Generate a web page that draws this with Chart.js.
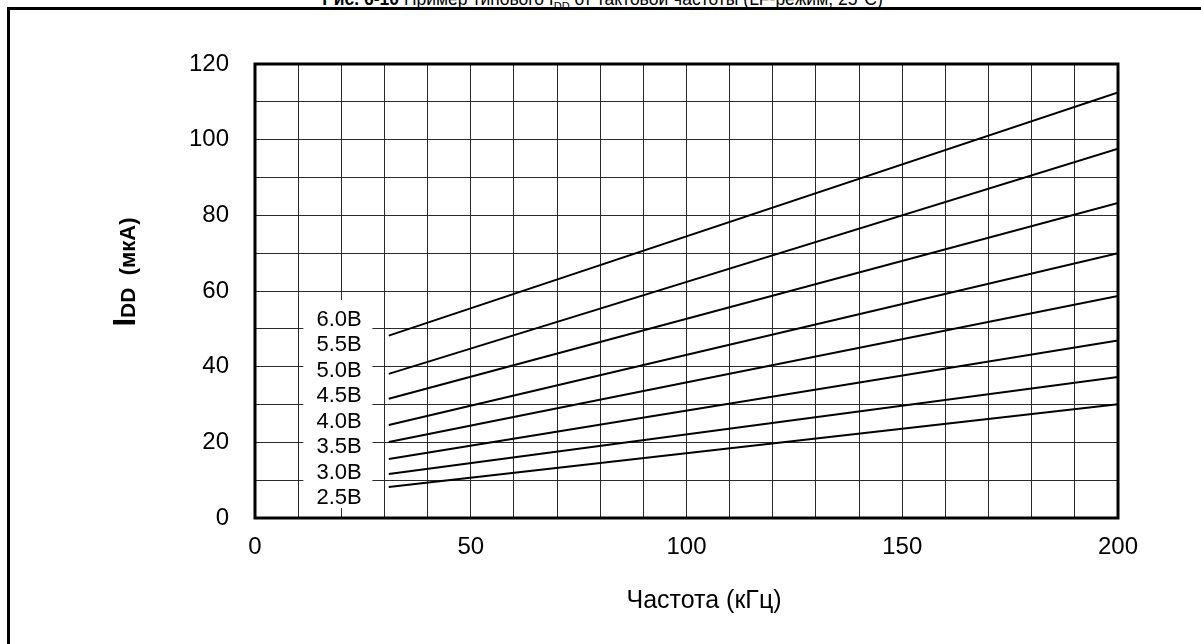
<!DOCTYPE html>
<html lang="ru">
<head>
<meta charset="UTF-8">
<title>IDD от тактовой частоты</title>
<script src="https://cdn.jsdelivr.net/npm/chart.js@4.4.1/dist/chart.umd.min.js"></script>
<style>
    html, body { margin: 0; padding: 0; background: #fff; overflow: hidden; }
    #ramka { position: absolute; left: 7px; top: 7px; width: 1300px; height: 800px; border: 3px solid #000; }
    #titulo { position: absolute; left: 0; top: -11px; width: 1205px; text-align: center;
              font: 17.5px/20px "Liberation Sans", Arial, sans-serif; color: #000; white-space: nowrap; }
    #titulo b { font-weight: bold; }
    #titulo sub { font-size: 11px; color: #000; }
    #grafico { position: absolute; left: 0; top: 0; }
</style>
</head>
<body>
<div id="titulo"><b>Рис. 6-10</b> Пример типового I<sub>DD</sub> от тактовой частоты (LF-режим, 25°C)</div>
<div id="ramka"></div>
<canvas id="grafico" width="1201" height="644"></canvas>

<script>
    // dados
    const frequencia = [31, 200];                 // kHz
    const tensoes = ['6.0В', '5.5В', '5.0В', '4.5В', '4.0В', '3.5В', '3.0В', '2.5В'];
    const idd60 = [48.2, 112.5];
    const idd55 = [38.1, 97.6];
    const idd50 = [31.5, 83.3];
    const idd45 = [24.6, 70.0];
    const idd40 = [20.1, 58.7];
    const idd35 = [15.6, 46.9];
    const idd30 = [11.6, 37.3];
    const idd25 = [8.2, 30.1];
    const ticksX = [0, 50, 100, 150, 200];
    const ticksY = [0, 20, 40, 60, 80, 100, 120];

    const series = [idd60, idd55, idd50, idd45, idd40, idd35, idd30, idd25];
    const fonte = '"Liberation Sans", Arial, sans-serif';

    // caixa branca com os rotulos das tensoes, moldura e titulos dos eixos
    const rotulos = {
        id: 'rotulos',
        beforeDatasetsDraw(chart) {
            const { ctx, scales: { x, y } } = chart;
            ctx.save();
            ctx.fillStyle = '#fff';
            const l = x.getPixelForValue(11.2), r = x.getPixelForValue(27.2);
            const t = y.getPixelForValue(57.6), b = y.getPixelForValue(2.6);
            ctx.fillRect(l, t, r - l, b - t);
            ctx.fillStyle = '#000';
            ctx.font = '22px ' + fonte;
            ctx.textAlign = 'center';
            ctx.textBaseline = 'middle';
            tensoes.forEach((txt, i) => {
                ctx.fillText(txt, x.getPixelForValue(19.5), y.getPixelForValue(52.7 - i * 6.75) + 1);
            });
            ctx.restore();
        },
        afterDatasetsDraw(chart) {
            const { ctx, chartArea: a } = chart;
            ctx.save();
            ctx.strokeStyle = '#000';
            ctx.lineWidth = 3;
            ctx.strokeRect(a.left, a.top, a.right - a.left, a.bottom - a.top);

            // titulo do eixo X
            ctx.fillStyle = '#000';
            ctx.font = '25px ' + fonte;
            ctx.textAlign = 'center';
            ctx.textBaseline = 'middle';
            ctx.fillText('Частота (кГц)', 704, 601);

            // titulo do eixo Y: I + DD pequeno + (мкА)
            const partes = [['I', 'bold 31px '], ['DD', 'bold 21px '], ['  (мкА)', 'bold 22px ']];
            let total = 0;
            partes.forEach(p => { ctx.font = p[1] + fonte; total += ctx.measureText(p[0]).width; });
            ctx.translate(135, 272);
            ctx.rotate(-Math.PI / 2);
            ctx.textAlign = 'left';
            ctx.textBaseline = 'alphabetic';
            let pos = -total / 2;
            partes.forEach(p => {
                ctx.font = p[1] + fonte;
                ctx.fillText(p[0], pos, 0);
                pos += ctx.measureText(p[0]).width;
            });
            ctx.restore();
        }
    };

    new Chart(document.getElementById('grafico'), {
        type: 'line',
        data: {
            datasets: series.map((s, i) => ({
                label: tensoes[i],
                data: frequencia.map((f, k) => ({ x: f, y: s[k] })),
                borderColor: '#000',
                borderWidth: 2,
                pointRadius: 0,
                fill: false,
                tension: 0
            }))
        },
        options: {
            responsive: false,
            animation: false,
            layout: { padding: { top: 64, right: 83, bottom: 0, left: 0 } },
            plugins: { legend: { display: false }, tooltip: { enabled: false } },
            scales: {
                x: {
                    type: 'linear',
                    min: 0, max: 200,
                    afterFit: (s) => { s.height = 126; },
                    grid: { color: '#2a2a2a', lineWidth: 1, drawTicks: false },
                    border: { display: false },
                    ticks: {
                        stepSize: 10, autoSkip: false, maxRotation: 0, padding: 15,
                        color: '#000', font: { family: fonte, size: 24 },
                        callback: (v) => ticksX.includes(v) ? v : ''
                    }
                },
                y: {
                    min: 0, max: 120,
                    afterFit: (s) => { s.width = 255; },
                    grid: { color: '#2a2a2a', lineWidth: 1, drawTicks: false },
                    border: { display: false },
                    ticks: {
                        stepSize: 10, autoSkip: false, padding: 26,
                        color: '#000', font: { family: fonte, size: 24 },
                        callback: (v) => ticksY.includes(v) ? v : ''
                    }
                }
            }
        },
        plugins: [rotulos]
    });
</script>
</body>
</html>
